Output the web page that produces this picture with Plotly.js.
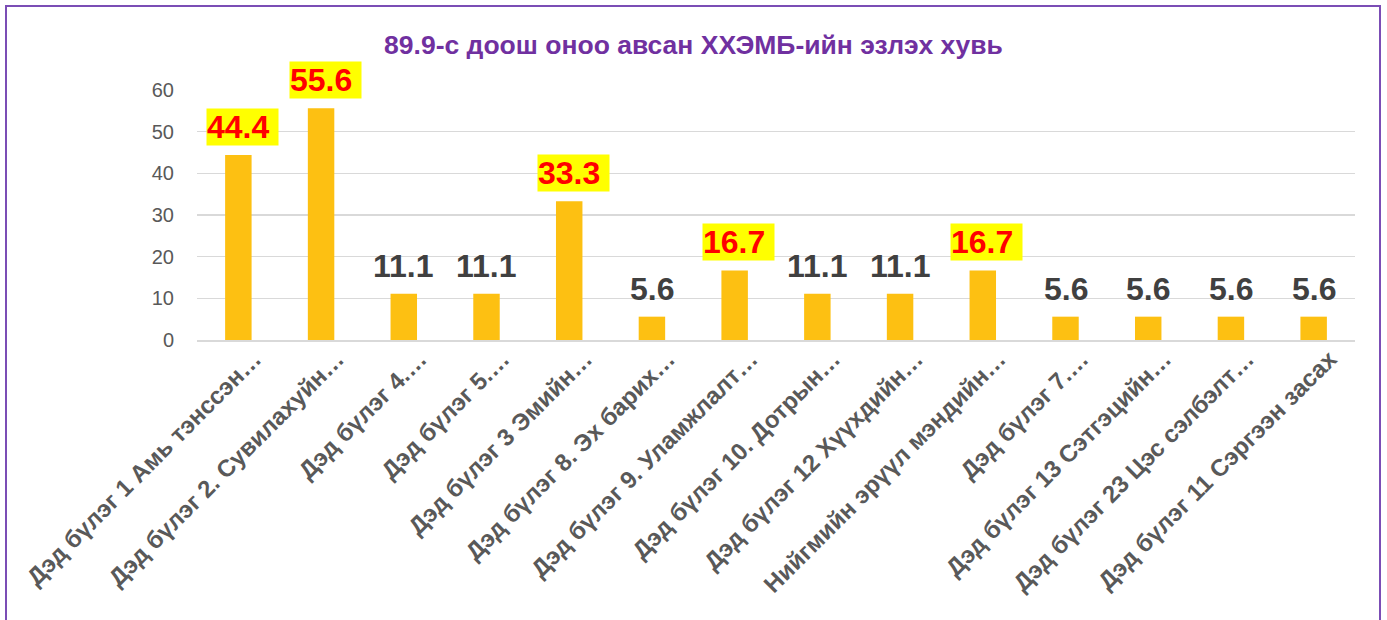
<!DOCTYPE html>
<html>
<head>
<meta charset="utf-8">
<script src="https://cdn.plot.ly/plotly-3.0.1.min.js"></script>
<style>
  html, body { margin: 0; padding: 0; background: #fff; }
  #chart { width: 1387px; height: 620px; }
  #frame { position: absolute; left: 5px; top: 5px; width: 1376px; height: 640px;
           border: 2px solid #7B4DB5; pointer-events: none; box-sizing: border-box; }
</style>
</head>
<body>
<div id="chart"></div>
<div id="frame"></div>
<script>
const categories = [
  "Дэд бүлэг 1 Амь тэнссэн…",
  "Дэд бүлэг 2. Сувилахуйн…",
  "Дэд бүлэг 4.…",
  "Дэд бүлэг 5.…",
  "Дэд бүлэг 3 Эмийн…",
  "Дэд бүлэг 8. Эх барих…",
  "Дэд бүлэг 9. Уламжлалт…",
  "Дэд бүлэг 10. Дотрын…",
  "Дэд бүлэг 12 Хүүхдийн…",
  "Нийгмийн эрүүл мэндийн…",
  "Дэд бүлэг 7.…",
  "Дэд бүлэг 13 Сэтгэцийн…",
  "Дэд бүлэг 23 Цэс сэлбэлт…",
  "Дэд бүлэг 11 Сэргээн засах"
];
const values = [44.4, 55.6, 11.1, 11.1, 33.3, 5.6, 16.7, 11.1, 11.1, 16.7, 5.6, 5.6, 5.6, 5.6];
const highlighted = [true, true, false, false, true, false, true, false, false, true, false, false, false, false];
const yTicks = [0, 10, 20, 30, 40, 50, 60];
const titleText = "89.9-с доош оноо авсан ХХЭМБ-ийн эзлэх хувь";

const FONT = 'Liberation Sans, Arial, sans-serif';

const trace = {
  type: 'bar',
  x: categories,
  y: values,
  marker: { color: '#FDC012', line: { width: 0 } },
  hoverinfo: 'x+y'
};

const annotations = categories.map((c, i) => {
  const hl = highlighted[i];
  return {
    x: c, y: values[i], xref: 'x', yref: 'y',
    text: hl ? values[i].toFixed(1) + '\u00a0' : values[i].toFixed(1),
    showarrow: false,
    xanchor: 'center', yanchor: 'bottom',
    yshift: 9,
    xshift: hl ? 4 : 0,
    bgcolor: hl ? '#FFFF00' : 'rgba(0,0,0,0)',
    borderpad: 0,
    font: { family: FONT, size: 32, color: hl ? '#FF0000' : '#404040', weight: 'bold' }
  };
});

const layout = {
  width: 1387, height: 620,
  paper_bgcolor: '#ffffff', plot_bgcolor: '#ffffff',
  margin: { l: 197, r: 32, t: 90, b: 280 },
  bargap: 0.68,
  showlegend: false,
  title: {
    text: '<b>' + titleText + '</b>',
    font: { family: FONT, size: 26.5, color: '#7030A0' },
    x: 0.5, xanchor: 'center', xref: 'container',
    y: 1 - 45 / 620, yanchor: 'middle', yref: 'container'
  },
  xaxis: {
    type: 'category',
    tickangle: -45,
    tickfont: { family: FONT, size: 24, color: '#595959', weight: 'bold' },
    showgrid: false,
    showline: true, linecolor: '#D9D9D9', linewidth: 1.5,
    ticks: '', automargin: false,
    ticklabelstandoff: -6,
    ticklabelshift: 16
  },
  yaxis: {
    range: [0, 60],
    tickvals: yTicks,
    ticktext: yTicks.map(String),
    tickfont: { family: FONT, size: 20, color: '#595959' },
    showgrid: true, gridcolor: '#D9D9D9', gridwidth: 1.5,
    zeroline: false, showline: false, ticks: '',
    ticklabelstandoff: 22, automargin: false
  },
  annotations: annotations
};

Plotly.newPlot('chart', [trace], layout, { displayModeBar: false, staticPlot: true });
</script>
</body>
</html>
